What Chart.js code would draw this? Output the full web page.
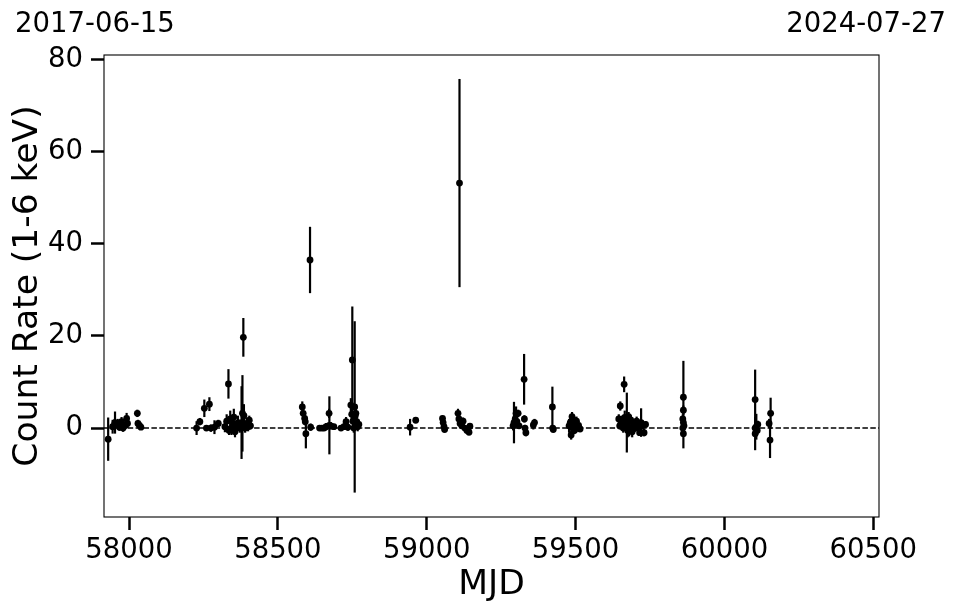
<!DOCTYPE html>
<html>
<head>
<meta charset="utf-8">
<script src="https://cdn.jsdelivr.net/npm/chart.js@4"></script>
<style>
  html, body { margin: 0; padding: 0; background: #fff; }
  #wrap { width: 957px; height: 613px; }
</style>
</head>
<body>
<div id="wrap"><canvas id="grafico" width="957" height="613"></canvas></div>
<script>
// datos
const mjd = [
  57930, 57945, 57952, 57953, 57962, 57968, 57975, 57980, 57986, 57992, 57995, 58028, 58030, 58035, 58040,
  58227, 58238, 58253, 58260, 58270, 58275, 58287, 58300,
  58322, 58328, 58334, 58336, 58340, 58344, 58348, 58352, 58356, 58360, 58366, 58372, 58378, 58381, 58384, 58386, 58390, 58395, 58400, 58404, 58408,
  58582, 58585, 58590, 58592, 58594, 58608, 58610,
  58640, 58648, 58655, 58662, 58672, 58673, 58678, 58688, 58712, 58722, 58729, 58735,
  58745, 58748, 58750, 58752, 58755, 58758, 58760, 58762, 58765, 58768, 58772,
  58944, 58963,
  59053, 59055, 59058, 59060, 59105, 59108, 59110, 59112, 59118, 59122, 59128, 59135, 59142, 59145,
  59290, 59293, 59297, 59300, 59303, 59307, 59310, 59327, 59328, 59330, 59333, 59358, 59362,
  59422, 59423, 59425, 59478, 59482, 59485, 59488, 59490, 59493, 59496, 59500, 59503, 59506, 59510, 59515,
  59645, 59648, 59650, 59655, 59660, 59663, 59665, 59668, 59672, 59675, 59678, 59680, 59685, 59690, 59695, 59700, 59705, 59710, 59715, 59720, 59725, 59730, 59735,
  59862, 59862, 59860, 59862, 59860, 59862, 59864,
  60103, 60103, 60103, 60107, 60110, 60112, 60150, 60155, 60153
];
const rate = [
  -2.4, 0.3, 0.8, 1.2, 1.0, 0.2, 1.4, 0.0, 0.5, 2.1, 1.0, 3.2, 1.0, 0.6, 0.2,
  0.0, 1.4, 4.3, 0.0, 5.2, 0.0, 0.2, 1.0,
  0.3, 1.5, 9.6, -0.5, 2.0, 0.0, 1.0, 2.4, -0.8, 0.5, 1.2, 0.0, 1.2, 3.2, 19.7, 2.7, 0.0, 1.0, 0.3, 1.7, 0.5,
  4.6, 3.2, 2.1, 1.4, -1.2, 36.5, 0.2,
  0.0, 0.0, 0.0, 0.3, 3.2, 0.6, 0.5, 0.3, 0.0, 0.3, 1.4, 0.2,
  5.0, 3.0, 14.8, 1.5, 0.0, 4.6, 2.7, 3.2, 1.4, 0.3, 0.8,
  0.2, 1.7,
  2.1, 1.2, 0.3, -0.3, 3.2, 2.0, 53.2, 1.0, 0.5, 1.5, 0.0, -0.5, -0.9, 0.4,
  0.5, 1.2, 2.0, 3.2, 1.4, 3.2, 0.5, 10.6, 2.0, 0.0, -1.0, 0.7, 1.2,
  4.6, 0.0, -0.3, 0.5, 1.2, -1.5, 2.5, 0.0, 1.8, -0.5, 0.8, 1.5, 0.0, 0.6, -0.2,
  2.0, 0.5, 4.8, 1.5, 0.0, 9.5, 2.3, 0.8, 1.2, -0.5, 2.5, 0.2, 1.8, -0.8, 1.0, 0.0, 1.5, 0.3, -1.0, 1.2, 0.5, -1.0, 0.8,
  6.7, 3.9, 2.0, 1.2, 0.0, -1.2, 0.5,
  6.2, 0.0, -1.2, 0.3, -0.5, 0.8, 1.0, 3.2, -2.6
];
const rateErr = [
  4.7, 1.5, 1.2, 2.4, 1.0, 0.8, 1.0, 0.8, 0.9, 1.2, 1.0, 0.8, 0.8, 0.7, 0.6,
  1.5, 0.8, 1.9, 0.6, 1.5, 0.8, 1.5, 0.8,
  1.2, 1.5, 3.2, 1.0, 1.8, 1.5, 1.2, 1.8, 1.2, 1.0, 1.5, 1.0, 7.9, 8.3, 4.2, 2.5, 1.0, 1.2, 1.0, 1.0, 0.8,
  1.2, 1.0, 1.0, 0.8, 3.2, 7.2, 0.8,
  0.5, 0.5, 0.6, 0.8, 1.0, 6.3, 0.8, 0.6, 0.5, 0.6, 1.0, 0.8,
  1.5, 1.2, 11.6, 1.2, 1.0, 18.6, 2.0, 2.0, 1.2, 1.0, 0.8,
  1.8, 0.6,
  0.6, 0.6, 0.5, 0.5, 1.0, 0.8, 22.6, 0.8, 0.7, 0.8, 0.6, 0.6, 0.6, 0.6,
  1.0, 4.5, 1.0, 1.5, 1.0, 0.8, 0.7, 5.5, 0.8, 0.7, 0.8, 1.0, 0.8,
  4.4, 0.6, 0.5, 1.5, 1.0, 1.0, 1.0, 1.2, 1.0, 0.8, 0.8, 1.0, 0.7, 0.6, 0.6,
  1.0, 0.8, 1.0, 1.2, 1.0, 1.7, 1.5, 1.2, 6.5, 1.5, 1.0, 2.0, 1.0, 1.2, 1.0, 0.8, 1.0, 0.8, 0.7, 3.1, 0.8, 0.8, 0.7,
  7.9, 1.0, 1.0, 0.8, 1.0, 3.2, 0.8,
  6.5, 1.0, 3.6, 2.8, 1.0, 0.8, 1.0, 3.4, 3.9
];
const xTicks = [58000, 58500, 59000, 59500, 60000, 60500];
const yTicks = [0, 20, 40, 60, 80];
const startDate = '2017-06-15';
const endDate = '2024-07-27';

const FONT = "'DejaVu Sans', sans-serif";

// barras de error + linea en cero + marco
const extras = {
  id: 'extras',
  beforeDatasetsDraw(chart) {
    const { ctx, chartArea: a, scales: { x, y } } = chart;
    ctx.save();
    ctx.beginPath();
    ctx.rect(a.left, a.top, a.right - a.left, a.bottom - a.top);
    ctx.clip();
    ctx.strokeStyle = '#000';
    ctx.lineWidth = 2.2;
    mjd.forEach((m, i) => {
      const px = x.getPixelForValue(m);
      ctx.beginPath();
      ctx.moveTo(px, y.getPixelForValue(rate[i] - rateErr[i]));
      ctx.lineTo(px, y.getPixelForValue(rate[i] + rateErr[i]));
      ctx.stroke();
    });
    ctx.restore();
  },
  afterDatasetsDraw(chart) {
    const { ctx, chartArea: a, scales: { y } } = chart;
    ctx.save();
    ctx.strokeStyle = '#000';
    ctx.lineWidth = 1.5;
    ctx.setLineDash([5.5, 2.4]);
    const py = y.getPixelForValue(0);
    ctx.beginPath();
    ctx.moveTo(a.left, py);
    ctx.lineTo(a.right, py);
    ctx.stroke();
    ctx.setLineDash([]);
    ctx.lineWidth = 1.1;
    ctx.strokeRect(a.left, a.top, a.right - a.left, a.bottom - a.top);
    ctx.fillStyle = '#000';
    ctx.font = '27.5px ' + FONT;
    ctx.textBaseline = 'alphabetic';
    ctx.textAlign = 'left';
    ctx.fillText(startDate, 15, 32);
    ctx.textAlign = 'right';
    ctx.fillText(endDate, 946, 32);
    ctx.restore();
  }
};

const ctx = document.getElementById('grafico').getContext('2d');
const chart = new Chart(ctx, {
  type: 'scatter',
  data: {
    datasets: [{
      data: mjd.map((m, i) => ({ x: m, y: rate[i] })),
      backgroundColor: '#000',
      borderWidth: 0,
      pointRadius: 3.4
    }]
  },
  options: {
    responsive: false,
    animation: false,
    layout: { padding: { top: 55, right: 78, left: 0, bottom: 0 } },
    plugins: { legend: { display: false }, tooltip: { enabled: false } },
    scales: {
      x: {
        type: 'linear',
        min: 57916,
        max: 60519,
        afterBuildTicks: s => { s.ticks = xTicks.map(v => ({ value: v })); },
        afterFit: s => { s.height = 96; },
        border: { display: false },
        grid: { drawOnChartArea: false, drawTicks: true, tickLength: 13, tickWidth: 2.5, tickColor: '#000' },
        ticks: { color: '#000', padding: 4, maxRotation: 0, font: { family: FONT, size: 27.5 }, callback: v => String(v) },
        title: { display: true, text: 'MJD', color: '#000', font: { family: FONT, size: 34.5 }, padding: { top: 0, bottom: 7 } }
      },
      y: {
        min: -19.3,
        max: 81,
        afterBuildTicks: s => { s.ticks = yTicks.map(v => ({ value: v })); },
        afterFit: s => { s.width = 104; },
        border: { display: false },
        grid: { drawOnChartArea: false, drawTicks: true, tickLength: 13, tickWidth: 2.5, tickColor: '#000' },
        ticks: { color: '#000', padding: 8, font: { family: FONT, size: 27.5 }, callback: v => String(v) },
        title: { display: true, text: 'Count Rate (1-6 keV)', color: '#000', font: { family: FONT, size: 34.5 }, padding: { top: 7, bottom: 0 } }
      }
    }
  },
  plugins: [extras]
});
</script>
</body>
</html>
